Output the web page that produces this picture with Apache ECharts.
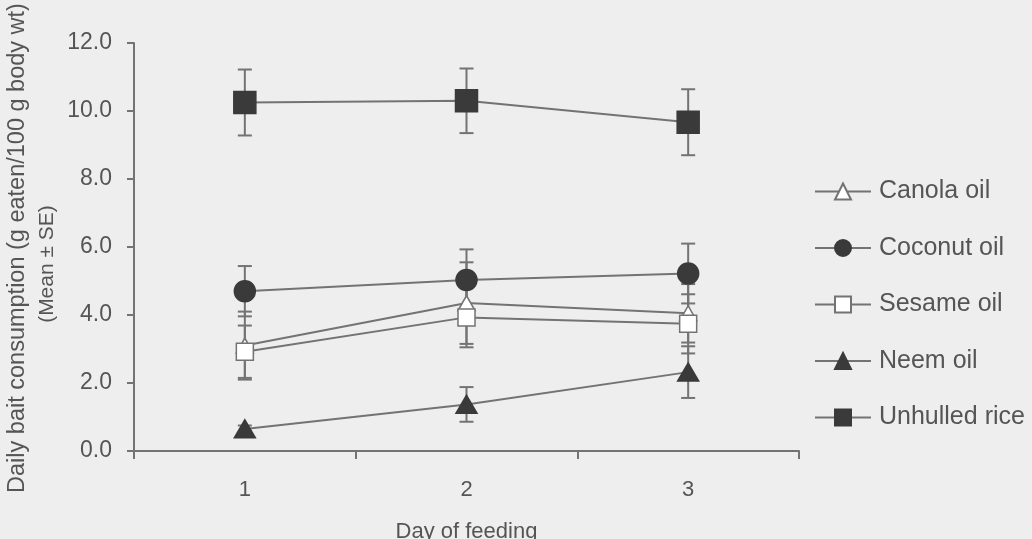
<!DOCTYPE html>
<html>
<head>
<meta charset="utf-8">
<script src="https://cdn.jsdelivr.net/npm/echarts@6/dist/echarts.min.js"></script>
<style>
  html, body { margin: 0; padding: 0; background: #eeeeee; }
  #chart { width: 1032px; height: 539px; }
</style>
</head>
<body>
<div id="chart"></div>
<script>
// Daily bait consumption per day of feeding (mean ± SE)
const days = ['1', '2', '3'];
const yTicks = [0, 2, 4, 6, 8, 10, 12];

const canolaMean  = [3.10, 4.35, 4.05];
const canolaSE    = [1.00, 1.20, 0.86];
const coconutMean = [4.70, 5.03, 5.22];
const coconutSE   = [0.74, 0.90, 0.88];
const sesameMean  = [2.92, 3.93, 3.74];
const sesameSE    = [0.77, 0.88, 0.87];
const neemMean    = [0.65, 1.37, 2.32];
const neemSE      = [0.10, 0.51, 0.76];
const riceMean    = [10.25, 10.30, 9.67];
const riceSE      = [0.97, 0.95, 0.97];

const FONT = '"Liberation Sans", Arial, sans-serif';
const TEXT = '#555555';
const LINE = '#737373';
const DARK = '#3a3a3a';

const groups = [
  { name: 'Canola oil',    mean: canolaMean,  se: canolaSE,  symbol: 'triangle', size: [17, 15], fill: '#ffffff', border: LINE },
  { name: 'Coconut oil',   mean: coconutMean, se: coconutSE, symbol: 'circle',   size: 21,       fill: DARK,      border: DARK },
  { name: 'Sesame oil',    mean: sesameMean,  se: sesameSE,  symbol: 'rect',     size: 17,       fill: '#ffffff', border: LINE },
  { name: 'Neem oil',      mean: neemMean,    se: neemSE,    symbol: 'triangle', size: [21, 18], fill: DARK,      border: DARK },
  { name: 'Unhulled rice', mean: riceMean,    se: riceSE,    symbol: 'rect',     size: 22,       fill: DARK,      border: DARK }
];

// Whisker with horizontal caps, drawn in data coordinates
function errorBarItem(params, api) {
  const x = api.value(0);
  const top = api.coord([x, api.value(2)]);
  const bottom = api.coord([x, api.value(1)]);
  const half = 7;
  const style = { stroke: LINE, lineWidth: 2 };
  return {
    type: 'group',
    children: [
      { type: 'line', shape: { x1: top[0], y1: top[1], x2: bottom[0], y2: bottom[1] }, style },
      { type: 'line', shape: { x1: top[0] - half, y1: top[1], x2: top[0] + half, y2: top[1] }, style },
      { type: 'line', shape: { x1: bottom[0] - half, y1: bottom[1], x2: bottom[0] + half, y2: bottom[1] }, style }
    ]
  };
}

const series = [];
groups.forEach(g => {
  series.push({
    type: 'custom',
    renderItem: errorBarItem,
    data: g.mean.map((m, i) => [i, m - g.se[i], m + g.se[i]]),
    z: 1,
    silent: true,
    encode: { x: 0, y: [1, 2] }
  });
});
groups.forEach(g => {
  series.push({
    name: g.name,
    type: 'line',
    data: g.mean,
    symbol: g.symbol,
    symbolSize: g.size,
    showAllSymbol: true,
    lineStyle: { color: LINE, width: 2 },
    itemStyle: { color: g.fill, borderColor: g.border, borderWidth: 1.5 },
    z: 3
  });
});

const chart = echarts.init(document.getElementById('chart'));
chart.setOption({
  backgroundColor: '#eeeeee',
  animation: false,
  grid: { left: 134, right: 233, top: 43, bottom: 88, outerBoundsMode: 'none', containLabel: false },
  xAxis: {
    type: 'category',
    data: days,
    boundaryGap: true,
    name: 'Day of feeding',
    nameLocation: 'middle',
    nameGap: 70,
    nameTextStyle: { fontFamily: FONT, fontSize: 22, color: TEXT },
    axisLine: { lineStyle: { color: LINE, width: 2 } },
    axisTick: { show: true, length: 8, lineStyle: { color: LINE, width: 2 } },
    axisLabel: { margin: 28, fontFamily: FONT, fontSize: 22, color: TEXT }
  },
  yAxis: {
    type: 'value',
    min: yTicks[0],
    max: yTicks[yTicks.length - 1],
    interval: 2,
    splitLine: { show: false },
    axisLine: { show: true, lineStyle: { color: LINE, width: 2 } },
    axisTick: { show: true, length: 7, lineStyle: { color: LINE, width: 2 } },
    axisLabel: { margin: 22, fontFamily: FONT, fontSize: 23, color: TEXT, formatter: v => v.toFixed(1) }
  },
  legend: {
    orient: 'vertical',
    left: 814,
    top: 179,
    padding: 0,
    itemWidth: 56,
    itemHeight: 20,
    itemGap: 31.5,
    data: groups.map(g => g.name),
    textStyle: { fontFamily: FONT, fontSize: 25, color: TEXT, padding: [0, 0, 0, 3] }
  },
  graphic: [
    {
      type: 'text',
      x: 18, y: 248,
      rotation: Math.PI / 2,
      style: {
        text: 'Daily bait consumption (g eaten/100 g body wt)',
        font: '23.5px ' + FONT,
        fill: TEXT,
        textAlign: 'center',
        textVerticalAlign: 'middle'
      }
    },
    {
      type: 'text',
      x: 47, y: 264,
      rotation: Math.PI / 2,
      style: {
        text: '(Mean ± SE)',
        font: '21px ' + FONT,
        fill: TEXT,
        textAlign: 'center',
        textVerticalAlign: 'middle'
      }
    }
  ],
  series: series
});
</script>
</body>
</html>
